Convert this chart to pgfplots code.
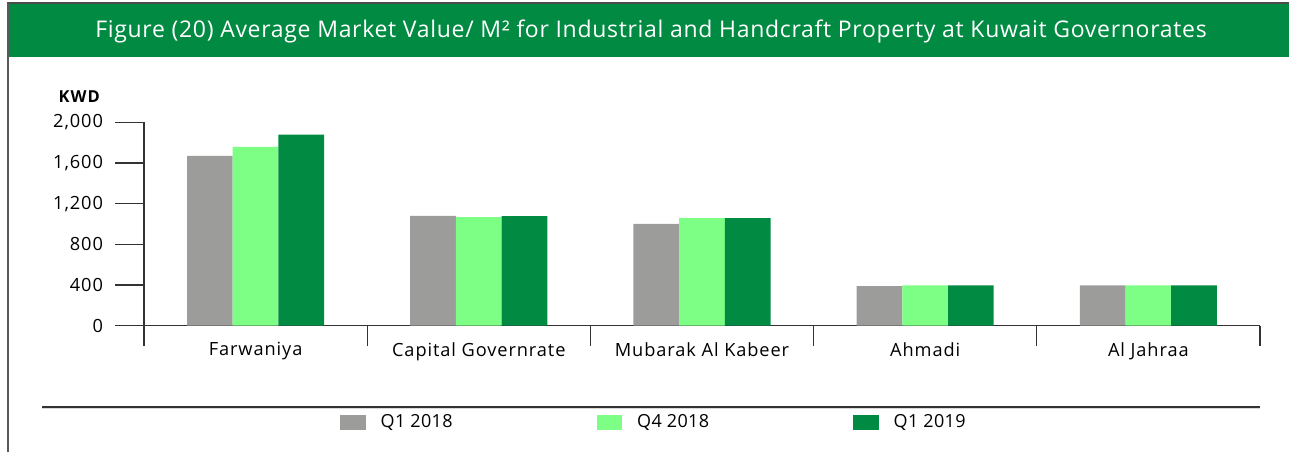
\documentclass[border=0pt]{standalone}
\usepackage{pgfplots}
\pgfplotsset{compat=1.18}
\usepackage{fontspec}
\setmainfont{Open Sans}
\newfontfamily\titlefont{Open Sans}[LetterSpace=3]
\newfontfamily\tickfont{Open Sans}[LetterSpace=5]
\newfontfamily\legfont{Open Sans}[LetterSpace=2]
\newfontfamily\kwdfont{Open Sans}[LetterSpace=6]
\definecolor{cGrey}{HTML}{9C9C9B}
\definecolor{cLight}{HTML}{7CFF84}
\definecolor{cDark}{HTML}{008A42}
\definecolor{cLine}{HTML}{333333}
\begin{document}
\begin{tikzpicture}[x=1pt,y=1pt]
\path[use as bounding box] (0,0) rectangle (1289,452);
% frame and title bar
\fill[cDark] (7,395) rectangle (1289,448);
\draw[line width=1.5pt,black!70] (7,449) -- (1289,449);
\draw[line width=1.5pt,black!65] (8,0) -- (8,449);
\node[text=white,anchor=base,inner sep=0pt,font=\titlefont\fontsize{23}{27}\selectfont] at (651,414.7) {Figure (20) Average Market Value/ M² for Industrial and Handcraft Property at Kuwait Governorates};
\node[anchor=base,inner sep=0pt,font=\kwdfont\bfseries\fontsize{16.5}{19}\selectfont] at (79.3,349) {KWD};
\draw[line width=1.2pt,cLine] (42,45) -- (1260,45);
\draw[line width=1pt,black!15] (42,43.5) -- (1260,43.5);
\begin{axis}[
  at={(144pt,126.3pt)}, anchor=south west,
  scale only axis, width=1116pt, height=203.4pt,
  xmin=-0.5, xmax=4.5, ymin=0, ymax=2000,
  axis x line=bottom, axis y line=left,
  axis line style={-, line width=1.2pt, cLine},
  ybar=0pt, bar width=45.7pt,
  xtick={0,1,2,3,4},
  xticklabels={Farwaniya, Capital Governrate, Mubarak Al Kabeer, Ahmadi, Al Jahraa},
  minor xtick={-0.5,0.5,1.5,2.5,3.5,4.5},
  major x tick style={draw=none},
  minor tick length=20pt,
  major tick length=29pt,
  tick align=outside,
  tick style={line width=1.1pt, cLine},
  ytick={0,400,800,1200,1600,2000},
  /pgf/number format/assume math mode=true,
  /pgf/number format/1000 sep={,},
  ticklabel style={font=\tickfont\fontsize{18.2}{21}\selectfont},
  yticklabel style={xshift=-8.5pt},
  xticklabel style={yshift=16pt},
  legend style={at={(0.1756,-0.4735)}, anchor=west, draw=none, fill=none,
    inner sep=0pt, font=\legfont\fontsize{18}{21}\selectfont,
    legend columns=3},
  legend image code/.code={\fill[#1] (0pt,-7.5pt) rectangle (25.5pt,7.5pt);},
]
\addplot[fill=cGrey, draw=none] coordinates {(0,1670) (1,1080) (2,1000) (3,388) (4,397)};
\addplot[fill=cLight, draw=none] coordinates {(0,1758) (1,1068) (2,1058) (3,397) (4,397)};
\addplot[fill=cDark, draw=none] coordinates {(0,1878) (1,1078) (2,1058) (3,397) (4,397)};
\addlegendentry{\makebox[227pt][l]{\hspace{13pt}Q1 2018}}
\addlegendentry{\makebox[227pt][l]{\hspace{13pt}Q4 2018}}
\addlegendentry{\hspace{13pt}Q1 2019}
\end{axis}
\end{tikzpicture}
\end{document}
